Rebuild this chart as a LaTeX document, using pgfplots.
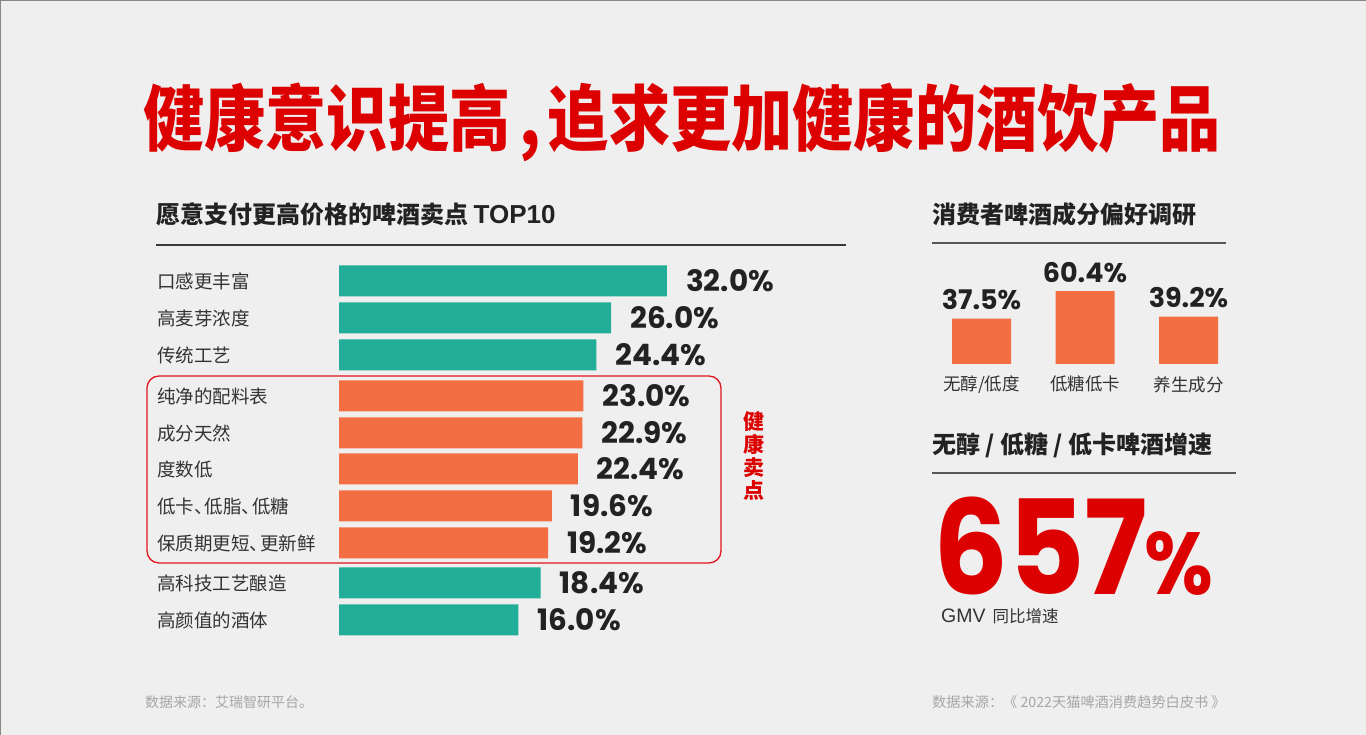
\documentclass[border=0pt]{standalone}
\usepackage{fontspec}
\usepackage{pgfplots}
\usepackage{pgfplotstable}
\pgfplotsset{compat=1.18}
\setmainfont{Noto Sans CJK SC}
\newfontfamily\titlefont{Noto Sans CJK SC}[FakeStretch=0.85]
\newfontfamily\numfont{Poppins}
\newfontfamily\bignumfont{Poppins}[FakeStretch=0.9]
\newfontfamily\latinfont{Liberation Sans}
\definecolor{bg}{HTML}{EFEFEF}
\definecolor{mteal}{HTML}{22AD98}
\definecolor{morange}{HTML}{F46E43}
\definecolor{tred}{HTML}{DD0000}
\definecolor{boxred}{HTML}{E0161C}
\definecolor{txt}{HTML}{222222}
\definecolor{lbl}{HTML}{333333}
\definecolor{foot}{HTML}{A6A6A6}
\definecolor{rulec}{HTML}{3A3A3A}
\definecolor{borderc}{HTML}{8C8782}

\pgfplotstableread{
y v
281 32.0
318 26.0
355 24.4
583 18.4
620 16.0
}\tealdata
\pgfplotstableread{
y v
396 23.0
433 22.9
469 22.4
506 19.6
543 19.2
}\orangedata

\begin{document}
\begin{tikzpicture}[x=1pt,y=1pt]
\useasboundingbox (0,0) rectangle (1366,735);
\fill[bg] (0,0) rectangle (1366,735);
\draw[borderc, line width=2pt] (0,735) -- (1366,735);
\draw[borderc, line width=1.5pt] (0,0) -- (0,735);

% title
\node[anchor=west, inner sep=0pt, text=tred] at (143,612.5)
  {\titlefont\bfseries\fontsize{72}{76}\selectfont 健康意识提高\hspace{9pt},\hspace{7pt}追求更加健康的酒饮产品};

% left subtitle
\node[anchor=west, inner sep=0pt, text=txt] at (156,521)
  {\bfseries\fontsize{24}{26}\selectfont 愿意支付更高价格的啤酒卖点 {\latinfont\fontsize{26}{28}\selectfont TOP10}};
\draw[rulec, line width=1.8pt] (156,490) -- (846,490);

% right subtitles
\node[anchor=west, inner sep=0pt, text=txt] at (932,521)
  {\bfseries\fontsize{24}{26}\selectfont 消费者啤酒成分偏好调研};
\draw[rulec!85, line width=1.5pt] (932,492) -- (1226,492);
\node[anchor=west, inner sep=0pt, text=txt] at (932,290)
  {\bfseries\fontsize{24}{26}\selectfont 无醇 / 低糖 / 低卡啤酒增速};
\draw[rulec!85, line width=1.5pt] (932,262) -- (1236,262);

% left bar chart
\begin{axis}[
  at={(339pt,95pt)}, anchor=south west, scale only axis,
  width=402pt, height=380pt,
  xmin=0, xmax=43.34, ymin=260, ymax=640, y dir=reverse,
  axis line style={draw=none}, tick style={draw=none},
  xtick=\empty,
  ytick={281,318,355,396,433,469,506,543,583,620},
  yticklabels={口感更丰富,高麦芽浓度,传统工艺,纯净的配料表,成分天然,度数低,{低卡、\kern-8pt低脂、\kern-8pt低糖},{保质期更短、\kern-8pt更新鲜},高科技工艺酿造,高颜值的酒体},
  yticklabel style={anchor=west, inner sep=0pt, xshift=-182pt, text=lbl, font=\fontsize{18.5}{20}\selectfont},
  clip=false,
  point meta=explicit,
  nodes near coords={\pgfmathprintnumber[fixed,fixed zerofill,precision=1,assume math mode=true]{\pgfplotspointmeta}\%},
  every node near coord/.style={anchor=west, inner sep=0pt, xshift=19pt, text=txt, font=\numfont\bfseries\fontsize{29.5}{31}\selectfont},
]
\addplot[xbar, bar shift=0pt, bar width=31, fill=mteal, draw=none]
  table[x expr=\thisrow{v}+3.34, y=y, meta=v]{\tealdata};
\addplot[xbar, bar shift=0pt, bar width=31, fill=morange, draw=none]
  table[x expr=\thisrow{v}+3.34, y=y, meta=v]{\orangedata};
\end{axis}

% red box
\draw[boxred, line width=1.3pt, rounded corners=12pt] (147,359) rectangle (721,172);
\node[align=center, inner sep=0pt, text=tred, font=\bfseries\fontsize{21}{23}\selectfont] at (754,279) {健\\康\\卖\\点};

% right bar chart
\begin{axis}[
  at={(929.75pt,371pt)}, anchor=south west, scale only axis,
  width=310.5pt, height=96.64pt,
  xmin=-0.5, xmax=2.5, ymin=0, ymax=80,
  axis line style={draw=none}, tick style={draw=none},
  ytick=\empty, xtick={0,1,2},
  xticklabels={无醇/低度,低糖低卡,养生成分},
  xticklabel style={anchor=north, inner sep=0pt, yshift=-12pt, text=lbl, font=\fontsize{17.5}{19}\selectfont},
  clip=false,
  nodes near coords={\pgfmathprintnumber[fixed,fixed zerofill,precision=1,assume math mode=true]{\pgfplotspointmeta}\%},
  every node near coord/.style={anchor=base, inner sep=0pt, yshift=9pt, text=txt, font=\numfont\bfseries\fontsize{27}{29}\selectfont},
]
\addplot[ybar, bar shift=0pt, bar width=0.57, fill=morange, draw=none]
  coordinates {(0,37.5) (1,60.4) (2,39.2)};
\end{axis}

% big number
\node[anchor=base west, inner sep=0pt, text=tred] at (933,140)
  {\bignumfont\bfseries\fontsize{131}{131}\selectfont 657\kern-4pt{\fontsize{88}{88}\selectfont\%}};
\node[anchor=west, inner sep=0pt, text=lbl] at (941,119)
  {{\latinfont\fontsize{19.5}{21}\selectfont GMV}\hspace{7pt}{\fontsize{16.5}{18}\selectfont 同比增速}};

% footnotes
\node[anchor=west, inner sep=0pt, text=foot, font=\fontsize{14}{16}\selectfont] at (145,33) {数据来源：艾瑞智研平台。};
\node[anchor=west, inner sep=0pt, text=foot, font=\fontsize{14.2}{16}\selectfont] at (932,33) {数据来源：《 2022天猫啤酒消费趋势白皮书 》};
\end{tikzpicture}
\end{document}
